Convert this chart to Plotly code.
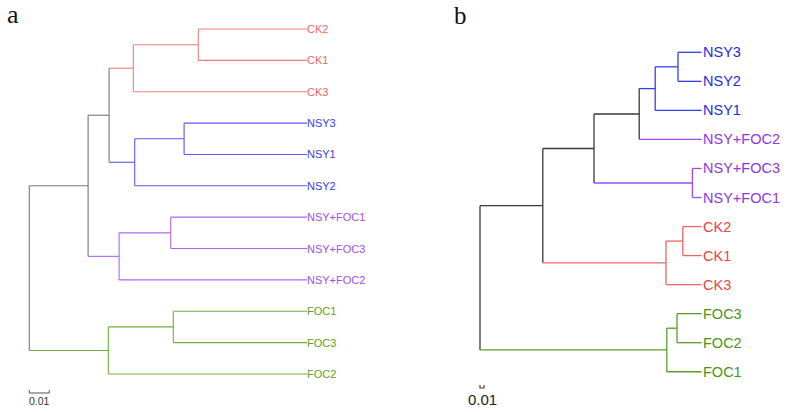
import plotly.graph_objects as go

# ---------------- data ----------------
A_LEAVES = ["CK2", "CK1", "CK3", "NSY3", "NSY1", "NSY2",
            "NSY+FOC1", "NSY+FOC3", "NSY+FOC2", "FOC1", "FOC3", "FOC2"]
A_GROUPS = ["CK", "CK", "CK", "NSY", "NSY", "NSY",
            "NSYFOC", "NSYFOC", "NSYFOC", "FOC", "FOC", "FOC"]
# merges: (child1, child2, node distance from root); leaves are 0..11
A_MERGES = [(0, 1, 0.0845), (12, 2, 0.052), (3, 4, 0.0774), (14, 5, 0.0527),
            (13, 15, 0.0399), (6, 7, 0.0707), (17, 8, 0.0449), (16, 18, 0.0294),
            (9, 10, 0.072), (20, 11, 0.0395), (19, 21, 0.0)]
A_LEAF_DEPTH = 0.1389

B_LEAVES = ["NSY3", "NSY2", "NSY1", "NSY+FOC2", "NSY+FOC3", "NSY+FOC1",
            "CK2", "CK1", "CK3", "FOC3", "FOC2", "FOC1"]
B_GROUPS = ["NSY", "NSY", "NSY", "NSYFOC", "NSYFOC", "NSYFOC",
            "CK", "CK", "CK", "FOC", "FOC", "FOC"]
B_MERGES = [(0, 1, 0.495), (12, 2, 0.438), (13, 3, 0.398), (4, 5, 0.531),
            (14, 15, 0.285), (6, 7, 0.507), (17, 8, 0.465), (16, 18, 0.157),
            (9, 10, 0.4925), (20, 11, 0.467), (19, 21, 0.0)]
B_LEAF_DEPTH = 0.554

SCALE_LEN = 0.01
SCALE_LABEL = "0.01"

# ---------------- styles ----------------
A_LINE = {"CK": "#F37C7C", "NSY": "#5A5AF2", "NSYFOC": "#AE66F2", "FOC": "#6FAE3A", None: "#767676"}
A_TEXT = {"CK": "#F26464", "NSY": "#3B3BEE", "NSYFOC": "#A04FEE", "FOC": "#5E9E28"}
B_LINE = {"CK": "#EE6464", "NSY": "#3440E6", "NSYFOC": "#9C4CEA", "FOC": "#5A9E28", None: "#3A3A3A"}
B_TEXT = {"CK": "#EE4242", "NSY": "#1C2CDF", "NSYFOC": "#9035E6", "FOC": "#4A9418"}


def build(leaves, groups, merges, leaf_depth):
    n = len(leaves)
    xs = {i: leaf_depth for i in range(n)}
    ys = {i: float(i) for i in range(n)}
    grp = {i: groups[i] for i in range(n)}
    segs = []  # (x0,y0,x1,y1,group)
    for k, (c1, c2, h) in enumerate(merges):
        node = n + k
        xs[node] = h
        ys[node] = (ys[c1] + ys[c2]) / 2
        grp[node] = grp[c1] if grp[c1] == grp[c2] else None
        segs.append((h, ys[c1], h, ys[c2], grp[node]))
        for c in (c1, c2):
            segs.append((h, ys[c], xs[c], ys[c], grp[c]))
    return segs


fig = go.Figure()


def add_tree(segs, colors, xa, ya, width):
    by = {}
    for s in segs:
        by.setdefault(s[4], []).append(s)
    for g, lst in by.items():
        x, y = [], []
        for (x0, y0, x1, y1, _) in lst:
            x += [x0, x1, None]
            y += [y0, y1, None]
        fig.add_trace(go.Scatter(x=x, y=y, mode="lines", xaxis=xa, yaxis=ya,
                                 line=dict(color=colors[g], width=width),
                                 hoverinfo="skip", showlegend=False))


add_tree(build(A_LEAVES, A_GROUPS, A_MERGES, A_LEAF_DEPTH), A_LINE, "x", "y", 1.1)
add_tree(build(B_LEAVES, B_GROUPS, B_MERGES, B_LEAF_DEPTH), B_LINE, "x2", "y2", 1.3)

FONT = "Liberation Sans, Arial, sans-serif"
ann = []
for i, (lab, g) in enumerate(zip(A_LEAVES, A_GROUPS)):
    ann.append(dict(x=A_LEAF_DEPTH, y=i, xref="x", yref="y", text=lab, showarrow=False,
                    xanchor="left", yanchor="middle", xshift=-2,
                    font=dict(family=FONT, size=11, color=A_TEXT[g])))
for i, (lab, g) in enumerate(zip(B_LEAVES, B_GROUPS)):
    ann.append(dict(x=B_LEAF_DEPTH, y=i, xref="x2", yref="y2", text=lab, showarrow=False,
                    xanchor="left", yanchor="middle", xshift=-1,
                    font=dict(family=FONT, size=14.5, color=B_TEXT[g])))

# scale bars
A_BAR_Y = 11.607
B_BAR_Y = 11.56
fig.add_trace(go.Scatter(x=[0, 0, SCALE_LEN, SCALE_LEN], y=[A_BAR_Y - 0.1, A_BAR_Y, A_BAR_Y, A_BAR_Y - 0.1],
                         mode="lines", xaxis="x", yaxis="y", line=dict(color="#555555", width=1),
                         hoverinfo="skip", showlegend=False))
fig.add_trace(go.Scatter(x=[0, 0, SCALE_LEN, SCALE_LEN], y=[B_BAR_Y - 0.1, B_BAR_Y, B_BAR_Y, B_BAR_Y - 0.1],
                         mode="lines", xaxis="x2", yaxis="y2", line=dict(color="#444444", width=1.2),
                         hoverinfo="skip", showlegend=False))
ann.append(dict(x=SCALE_LEN / 2, y=A_BAR_Y, xref="x", yref="y", text=SCALE_LABEL, showarrow=False,
                xanchor="center", yanchor="top", yshift=0,
                font=dict(family=FONT, size=10.5, color="#333333")))
ann.append(dict(x=SCALE_LEN / 2, y=B_BAR_Y, xref="x2", yref="y2", text=SCALE_LABEL, showarrow=False,
                xanchor="center", yanchor="top", yshift=-1,
                font=dict(family=FONT, size=15, color="#222222")))

# panel letters
ann.append(dict(x=13 / 787, y=1 - 15 / 412, xref="paper", yref="paper", text="a", showarrow=False,
                xanchor="center", yanchor="middle",
                font=dict(family="Liberation Serif, Times New Roman, serif", size=26, color="#111111")))
ann.append(dict(x=461 / 787, y=1 - 16 / 412, xref="paper", yref="paper", text="b", showarrow=False,
                xanchor="center", yanchor="middle",
                font=dict(family="Liberation Serif, Times New Roman, serif", size=25, color="#111111")))

W, H = 787, 412
# pixel mapping: panel a px = 29.3 + 2000*d, py = 29 + 31.36*i
# panel b px = 480 + 400*d, py = 52.3 + 29.04*i
ax_common = dict(visible=False, showgrid=False, zeroline=False, domain=[0, 1], fixedrange=True)
fig.update_layout(
    width=W, height=H, margin=dict(l=0, r=0, t=0, b=0),
    paper_bgcolor="white", plot_bgcolor="white",
    xaxis=dict(range=[-29.3 / 2000, (W - 29.3) / 2000], **ax_common),
    yaxis=dict(range=[(H - 29) / 31.36, -29 / 31.36], **ax_common),
    xaxis2=dict(range=[-480 / 400, (W - 480) / 400], overlaying="x", anchor="y2", **ax_common),
    yaxis2=dict(range=[(H - 52.3) / 29.04, -52.3 / 29.04], overlaying="y", anchor="x2", **ax_common),
    annotations=ann,
)
fig.write_html("out.html", config={"displayModeBar": False},
               post_script="document.body.style.margin='0';document.body.style.overflow='hidden';")
